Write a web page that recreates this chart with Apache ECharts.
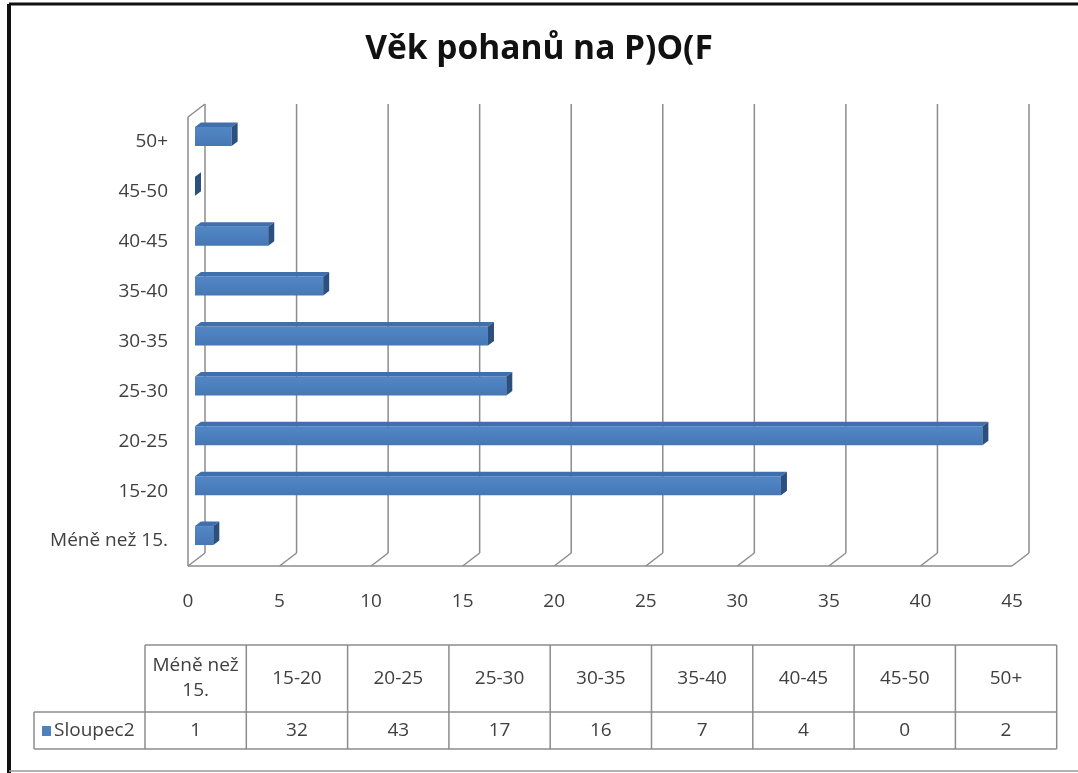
<!DOCTYPE html>
<html>
<head>
<meta charset="utf-8">
<script src="https://cdn.jsdelivr.net/npm/echarts@6/dist/echarts.min.js"></script>
<style>
  html, body { margin: 0; padding: 0; background: #fff; }
  #chart { width: 1078px; height: 773px; }
</style>
</head>
<body>
<div id="chart"></div>
<script>
// data
const titleText = 'Věk pohanů na P)O(F';
const seriesName = 'Sloupec2';
const categories = ['Méně než 15.', '15-20', '20-25', '25-30', '30-35', '35-40', '40-45', '45-50', '50+'];
const tableLabels = ['Méně než\n15.', '15-20', '20-25', '25-30', '30-35', '35-40', '40-45', '45-50', '50+'];
const values = [1, 32, 43, 17, 16, 7, 4, 0, 2];
const xTicks = [0, 5, 10, 15, 20, 25, 30, 35, 40, 45];

const FONT = '"Open Sans"';
const FONT_SIZE = 19;
const LABEL_COLOR = '#404040';
const WALL_COLOR = '#8c8c8c';
const BLUE = '#4f81bd';

// perspective: front plane -> back wall
const wallDepth = [17, -13];
// bars stand a bit behind the front plane
const barShift = [7, -5.5];
const barDepth = [6, -4.5];
const barHeight = 19;

const chart = echarts.init(document.getElementById('chart'));

// walls and gridlines (3d look)
function renderWalls(params, api) {
    const cs = params.coordSys;
    const v = api.value(0);
    const fx = api.coord([v, 0])[0];
    const top = cs.y;
    const bottom = cs.y + cs.height;
    const bx = fx + wallDepth[0];
    const lineStyle = { stroke: WALL_COLOR, lineWidth: 1.5, fill: null };
    const children = [
        { type: 'line', shape: { x1: bx, y1: top + wallDepth[1], x2: bx, y2: bottom + wallDepth[1] }, style: lineStyle },
        { type: 'line', shape: { x1: bx, y1: bottom + wallDepth[1], x2: fx, y2: bottom }, style: lineStyle }
    ];
    if (params.dataIndex === 0) {
        // left side wall + floor front edge
        const rx = api.coord([xTicks[xTicks.length - 1], 0])[0];
        children.push(
            { type: 'line', shape: { x1: fx, y1: top, x2: fx, y2: bottom }, style: lineStyle },
            { type: 'line', shape: { x1: fx, y1: top, x2: bx, y2: top + wallDepth[1] }, style: lineStyle },
            { type: 'line', shape: { x1: fx, y1: bottom, x2: rx, y2: bottom }, style: lineStyle }
        );
    }
    return { type: 'group', children: children };
}

function renderBar(params, api) {
    const i = api.value(1);
    const p0 = api.coord([0, i]);
    const p1 = api.coord([api.value(0), i]);
    const x0 = p0[0] + barShift[0];
    const x1 = p1[0] + barShift[0];
    const yTop = p0[1] + barShift[1] - barHeight / 2;
    const yBot = yTop + barHeight;
    const dx = barDepth[0], dy = barDepth[1];
    return {
        type: 'group',
        children: [
            {
                type: 'rect',
                shape: { x: x0, y: yTop, width: x1 - x0, height: barHeight },
                style: {
                    fill: new echarts.graphic.LinearGradient(0, 0, 0, 1, [
                        { offset: 0, color: '#5287c6' },
                        { offset: 1, color: '#4677b4' }
                    ])
                }
            },
            {
                type: 'polygon',
                shape: { points: [[x0, yTop], [x1, yTop], [x1 + dx, yTop + dy], [x0 + dx, yTop + dy]] },
                style: { fill: '#3f6fac' }
            },
            {
                type: 'polygon',
                shape: { points: [[x1, yTop], [x1 + dx, yTop + dy], [x1 + dx, yBot + dy], [x1, yBot]] },
                style: { fill: '#2b4f7e' }
            }
        ]
    };
}

// data table under the chart
function buildTable() {
    const els = [];
    const colLeft = 145, colW = 101.3, keyLeft = 34;
    const headTop = 645, rowTop = 712, rowBot = 749;
    const right = colLeft + colW * categories.length;
    const ls = { stroke: WALL_COLOR, lineWidth: 1.5 };
    const textStyle = (extra) => Object.assign({
        fontFamily: FONT, fontSize: FONT_SIZE, fill: LABEL_COLOR, align: 'center', verticalAlign: 'middle'
    }, extra);

    els.push({ type: 'line', shape: { x1: colLeft, y1: headTop, x2: right, y2: headTop }, style: ls });
    els.push({ type: 'line', shape: { x1: keyLeft, y1: rowTop, x2: right, y2: rowTop }, style: ls });
    els.push({ type: 'line', shape: { x1: keyLeft, y1: rowBot, x2: right, y2: rowBot }, style: ls });
    els.push({ type: 'line', shape: { x1: keyLeft, y1: rowTop, x2: keyLeft, y2: rowBot }, style: ls });
    for (let c = 0; c <= categories.length; c++) {
        const x = colLeft + c * colW;
        els.push({ type: 'line', shape: { x1: x, y1: headTop, x2: x, y2: rowBot }, style: ls });
    }
    tableLabels.forEach((name, c) => {
        const cx = colLeft + c * colW + colW / 2;
        els.push({
            type: 'text', x: cx, y: (headTop + rowTop) / 2,
            style: textStyle({ text: name, lineHeight: 25 })
        });
        els.push({
            type: 'text', x: cx, y: (rowTop + rowBot) / 2,
            style: textStyle({ text: String(values[c]) })
        });
    });
    // legend key
    els.push({ type: 'rect', shape: { x: 42, y: 726, width: 9, height: 10 }, style: { fill: BLUE } });
    els.push({
        type: 'text', x: 54, y: (rowTop + rowBot) / 2,
        style: textStyle({ text: seriesName, align: 'left' })
    });
    return els;
}

const frame = [
    { type: 'line', shape: { x1: 9, y1: 4, x2: 1078, y2: 4 }, style: { stroke: '#111', lineWidth: 3 } },
    { type: 'line', shape: { x1: 9, y1: 4, x2: 9, y2: 773 }, style: { stroke: '#111', lineWidth: 4 } },
    { type: 'line', shape: { x1: 9, y1: 771, x2: 1078, y2: 771 }, style: { stroke: '#999', lineWidth: 1.5 } }
];

const option = {
    backgroundColor: '#fff',
    animation: false,
    title: {
        text: titleText,
        left: 'center',
        top: 27,
        textStyle: { fontFamily: FONT, fontSize: 33.5, fontWeight: 'bold', color: '#111' }
    },
    grid: { left: 188, top: 117, width: 824, height: 449 },
    xAxis: {
        type: 'value',
        min: 0,
        max: 45,
        interval: 5,
        axisLine: { show: false },
        axisTick: { show: false },
        splitLine: { show: false },
        axisLabel: { margin: 26, fontFamily: FONT, fontSize: FONT_SIZE, color: LABEL_COLOR }
    },
    yAxis: {
        type: 'category',
        data: categories,
        axisLine: { show: false },
        axisTick: { show: false },
        splitLine: { show: false },
        axisLabel: { margin: 20, fontFamily: FONT, fontSize: FONT_SIZE, color: LABEL_COLOR }
    },
    series: [
        {
            type: 'custom',
            name: 'walls',
            silent: true,
            renderItem: renderWalls,
            data: xTicks.map(t => [t, 0]),
            z: 1
        },
        {
            type: 'custom',
            name: seriesName,
            renderItem: renderBar,
            data: values.map((v, i) => [v, i]),
            encode: { x: 0, y: 1 },
            z: 2
        }
    ],
    graphic: frame.concat(buildTable())
};

chart.setOption(option);
</script>
</body>
</html>
